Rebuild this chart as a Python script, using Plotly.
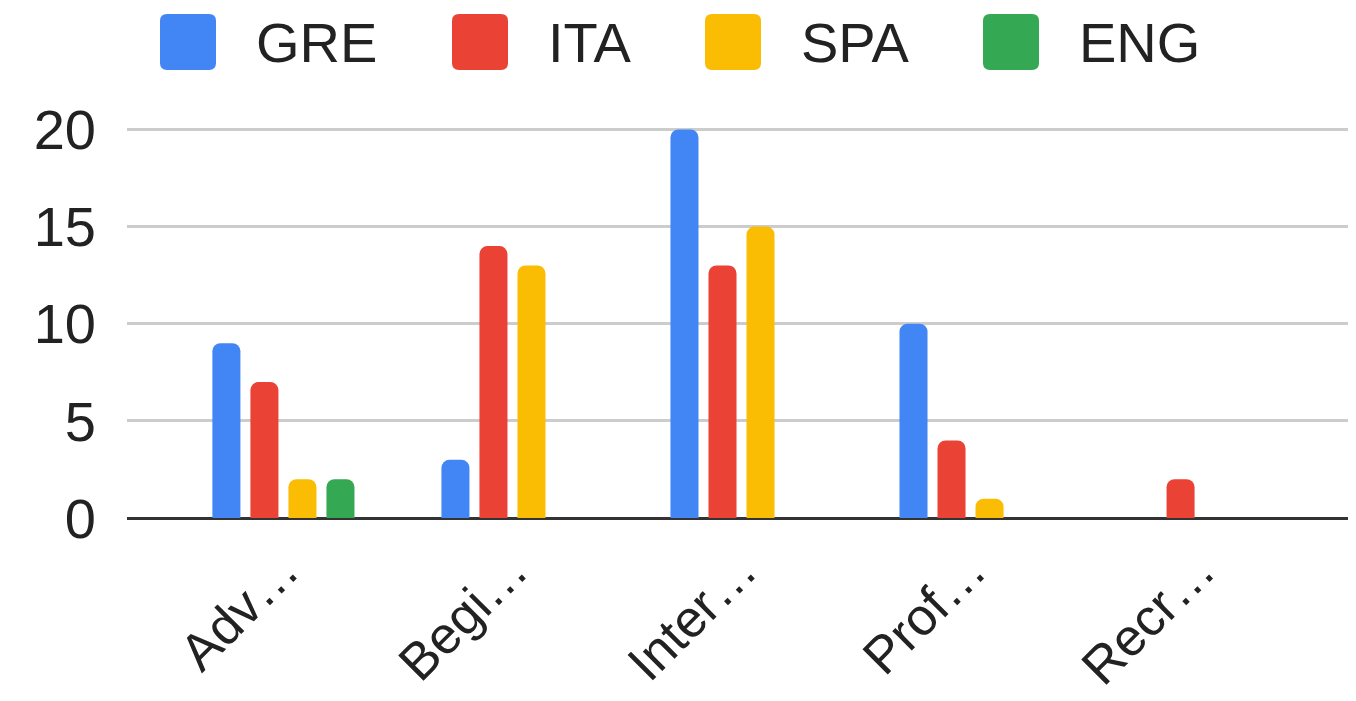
import plotly.graph_objects as go

categories = ["Adv…", "Begi…", "Inter…", "Prof…", "Recr…"]
series_names = ["GRE", "ITA", "SPA", "ENG"]
gre = [9, 3, 20, 10, 0]
ita = [7, 14, 13, 4, 2]
spa = [2, 13, 15, 1, 0]
eng = [2, 0, 0, 0, 0]
y_ticks = [0, 5, 10, 15, 20]

colors = ["#4285F4", "#EA4335", "#FBBC04", "#34A853"]
values = [gre, ita, spa, eng]

FONT = "Liberation Sans, Arial, sans-serif"
OFF = 8  # page body margin
W, H = 1348, 693
ML, MR, MT, MB = 119, 0, 102, 179

fig = go.Figure()
for name, vals, col in zip(series_names, values, colors):
    fig.add_trace(go.Bar(x=categories, y=vals, name=name, marker=dict(color=col, line=dict(width=0)),
                         showlegend=False))

# custom legend (large rounded swatches like the source)
plot_w = W - ML - MR
plot_h = H - MT - MB
def px_to_paper_x(px):
    return (px - OFF - ML) / plot_w
def px_to_paper_y(py):
    return (H - MB - (py - OFF)) / plot_h

legend_swatch_x = [160, 452, 705, 983]
swatch_w, swatch_top, swatch_bot = 56, 14, 70
text_gap = 38
shapes = []
annotations = []
for name, col, sx in zip(series_names, colors, legend_swatch_x):
    x0, x1 = px_to_paper_x(sx), px_to_paper_x(sx + swatch_w)
    y0, y1 = px_to_paper_y(swatch_bot), px_to_paper_y(swatch_top)
    rx = 7 / plot_w
    ry = 7 / plot_h
    path = (f"M {x0+rx},{y0} L {x1-rx},{y0} Q {x1},{y0} {x1},{y0+ry} L {x1},{y1-ry} Q {x1},{y1} {x1-rx},{y1} "
            f"L {x0+rx},{y1} Q {x0},{y1} {x0},{y1-ry} L {x0},{y0+ry} Q {x0},{y0} {x0+rx},{y0} Z")
    shapes.append(dict(type="path", xref="paper", yref="paper", path=path,
                       fillcolor=col, line=dict(width=0), layer="above"))
    annotations.append(dict(xref="paper", yref="paper", x=px_to_paper_x(sx + swatch_w + text_gap),
                            y=px_to_paper_y((swatch_top + swatch_bot) / 2), xanchor="left", yanchor="middle",
                            text=name, showarrow=False, font=dict(family=FONT, size=56, color="#222222")))

fig.update_layout(
    width=W, height=H,
    margin=dict(l=ML, r=MR, t=MT, b=MB, pad=0),
    paper_bgcolor="white", plot_bgcolor="white",
    barmode="group", bargap=0.336, bargroupgap=0.263, barcornerradius=8,
    font=dict(family=FONT, size=56, color="#222222"),
    shapes=shapes, annotations=annotations,
    xaxis=dict(range=[-0.683, 4.683], tickangle=-45, showgrid=False, showline=False, ticks="",
               ticklabelstandoff=6,
               tickfont=dict(family=FONT, size=52, color="#222222"), automargin=False),
    yaxis=dict(range=[-0.2, 21], tickvals=y_ticks, showgrid=True, gridcolor="#cccccc", gridwidth=3,
               zeroline=True, zerolinecolor="#333333", zerolinewidth=3, showline=False, ticks="",
               ticklabelstandoff=30, tickfont=dict(family=FONT, size=56, color="#222222"), automargin=False),
)

fig.write_html("out.html")
